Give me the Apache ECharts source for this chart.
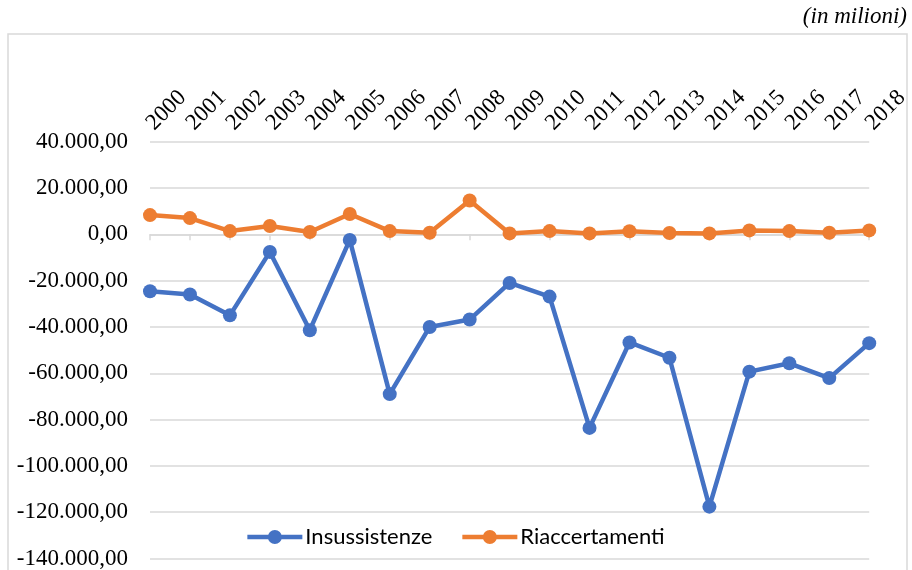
<!DOCTYPE html>
<html>
<head>
<meta charset="utf-8">
<script src="https://cdn.jsdelivr.net/npm/echarts@6/dist/echarts.min.js"></script>
<style>html,body{margin:0;padding:0;background:#fff}#c{width:912px;height:570px}</style>
</head>
<body>
<div id="c"></div>
<script>
const years = ['2000','2001','2002','2003','2004','2005','2006','2007','2008','2009','2010','2011','2012','2013','2014','2015','2016','2017','2018'];
const insussistenze = [-24600,-26000,-35000,-7600,-41400,-2400,-69000,-40000,-36800,-21000,-26900,-83600,-46700,-53300,-117600,-59300,-55700,-62100,-47000];
const riaccertamenti = [8300,7000,1400,3600,1000,8800,1400,700,14600,400,1400,400,1300,600,400,1700,1400,700,1700];
const seriesNames = ['Insussistenze','Riaccertamenti'];
const unitLabel = '(in milioni)';

function fmt(v){
  const neg = v < 0; const a = Math.abs(v);
  const s = Math.round(a).toString().replace(/\B(?=(\d{3})+(?!\d))/g,'.');
  return (neg?'-':'') + s + ',00';
}
const chart = echarts.init(document.getElementById('c'));
const serif = '"Liberation Serif", "Times New Roman", serif';
const legendIcon = 'path://M0,4.75 L55,4.75 L55,9.25 L0,9.25 Z M20.5,7 A7,7 0 1,1 34.5,7 A7,7 0 1,1 20.5,7 Z';
chart.setOption({
  animation:false,
  backgroundColor:'#fff',
  graphic:[
    {type:'rect', shape:{x:8,y:34,width:899,height:560}, style:{fill:'none',stroke:'#d9d9d9',lineWidth:1.5}, silent:true, z:-1},
    {type:'text', right:5, top:5, style:{text:unitLabel, font:'italic 23px "Liberation Serif", serif', fill:'#000'}}
  ],
  grid:{left:150,right:38,top:141.7,bottom:8.3,containLabel:false},
  legend:{
    data:seriesNames.map(n=>({name:n, icon:legendIcon})), left:'center', top:521, itemWidth:55, itemHeight:14, itemGap:30,
    textStyle:{fontFamily:'Lato, "Liberation Sans", sans-serif', fontSize:22, color:'#000', padding:[0,0,0,-2]}
  },
  xAxis:[
    {type:'category', data:years, boundaryGap:false, position:'bottom',
     axisLine:{onZero:true, lineStyle:{color:'#d9d9d9',width:1.5}},
     axisTick:{show:true,length:6,alignWithLabel:true,lineStyle:{color:'#d9d9d9',width:1.5}},
     axisLabel:{show:false}, splitLine:{show:false}},
    {type:'category', data:years, boundaryGap:false, position:'top',
     axisLine:{show:false}, axisTick:{show:false},
     axisLabel:{rotate:-45, margin:15, fontFamily:serif, fontSize:23, color:'#000', interval:0}}
  ],
  yAxis:{type:'value', min:-140000, max:40000, interval:20000,
    axisLine:{show:false}, axisTick:{show:false},
    axisLabel:{formatter:fmt, fontFamily:serif, fontSize:23, color:'#000', margin:22},
    splitLine:{lineStyle:{color:'#d9d9d9',width:1.5}}},
  series:[
    {name:seriesNames[0], type:'line', data:insussistenze, symbol:'circle', symbolSize:14,
     lineStyle:{color:'#4472C4',width:4.5}, itemStyle:{color:'#4472C4'}, z:3},
    {name:seriesNames[1], type:'line', data:riaccertamenti, symbol:'circle', symbolSize:14,
     lineStyle:{color:'#ED7D31',width:4.5}, itemStyle:{color:'#ED7D31'}, z:3}
  ]
});
</script>
</body>
</html>
